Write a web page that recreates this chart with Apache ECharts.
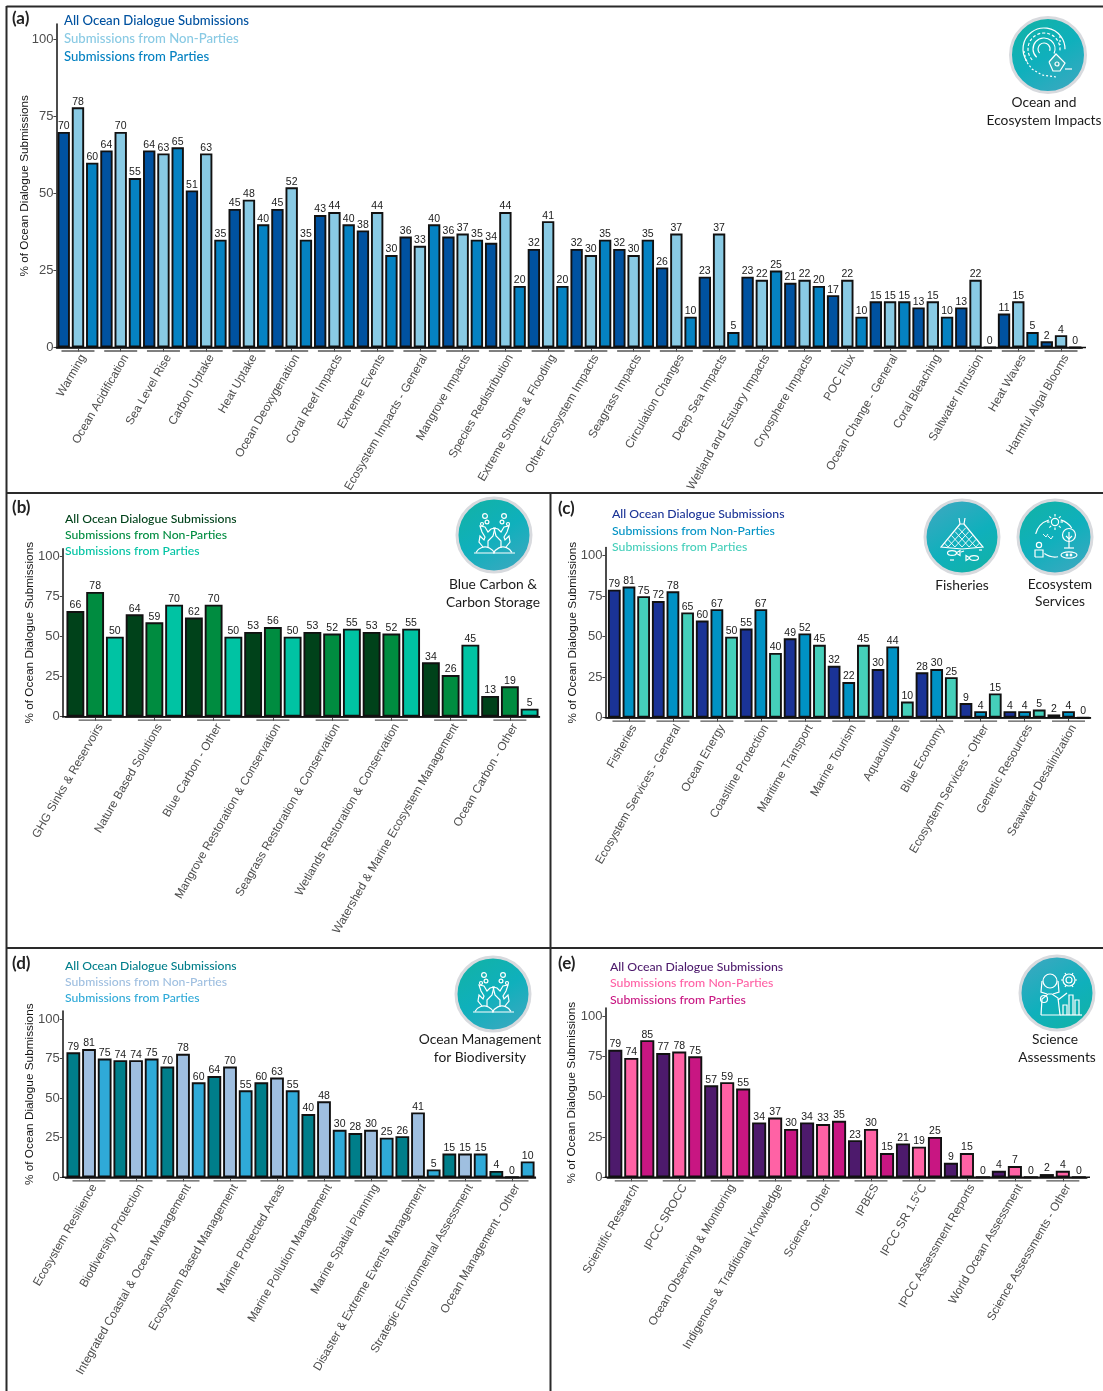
<!DOCTYPE html>
<html><head><meta charset="utf-8">
<style>html,body{margin:0;padding:0;background:#fff}#chart{width:1103px;height:1391px}</style>
<script src="https://cdn.jsdelivr.net/npm/echarts@6/dist/echarts.min.js"></script>
</head><body><div id="chart"></div>
<script>
const legendNames = ['All Ocean Dialogue Submissions','Submissions from Non-Parties','Submissions from Parties'];

const categoriesA = ['Warming','Ocean Acidification','Sea Level Rise','Carbon Uptake','Heat Uptake','Ocean Deoxygenation','Coral Reef Impacts','Extreme Events','Ecosystem Impacts - General','Mangrove Impacts','Species Redistribution','Extreme Storms & Flooding','Other Ecosystem Impacts','Seagrass Impacts','Circulation Changes','Deep Sea Impacts','Wetland and Estuary Impacts','Cryosphere Impacts','POC Flux','Ocean Change - General','Coral Bleaching','Saltwater Intrusion','Heat Waves','Harmful Algal Blooms'];
const allA =        [70,64,64,51,45,45,43,38,36,36,34,32,32,32,26,23,23,21,17,15,13,13,11,2];
const nonPartiesA = [78,70,63,63,48,52,44,44,33,37,44,41,30,30,37,37,22,22,22,15,15,22,15,4];
const partiesA =    [60,55,65,35,40,35,40,30,40,35,20,20,35,35,10,5,25,20,10,15,10,0,5,0];

const categoriesB = ['GHG Sinks & Reservoirs','Nature Based Solutions','Blue Carbon - Other','Mangrove Restoration & Conservation','Seagrass Restoration & Conservation','Wetlands Restoration & Conservation','Watershed & Marine Ecosystem Management','Ocean Carbon - Other'];
const allB =        [66,64,62,53,53,53,34,13];
const nonPartiesB = [78,59,70,56,52,52,26,19];
const partiesB =    [50,70,50,50,55,55,45,5];

const categoriesC = ['Fisheries','Ecosystem Services - General','Ocean Energy','Coastline Protection','Maritime Transport','Marine Tourism','Aquaculture','Blue Economy','Ecosystem Services - Other','Genetic Resources','Seawater Desalinization'];
const allC =        [79,72,60,55,49,32,30,28,9,4,2];
const nonPartiesC = [81,78,67,67,52,22,44,30,4,4,4];
const partiesC =    [75,65,50,40,45,45,10,25,15,5,0];

const categoriesD = ['Ecosystem Resilience','Biodiversity Protection','Integrated Coastal & Ocean Management','Ecosystem Based Management','Marine Protected Areas','Marine Pollution Management','Marine Spatial Planning','Disaster & Extreme Events Management','Strategic Environmental Assessment','Ocean Management - Other'];
const allD =        [79,74,70,64,60,40,28,26,15,4];
const nonPartiesD = [81,74,78,70,63,48,30,41,15,0];
const partiesD =    [75,75,60,55,55,30,25,5,15,10];

const categoriesE = ['Scientific Research','IPCC SROCC','Ocean Observing & Monitoring','Indigenous & Traditional Knowledge','Science - Other','IPBES','IPCC SR 1.5\u00B0C','IPCC Assessment Reports','World Ocean Assessment','Science Assessments - Other'];
const allE =        [79,77,57,34,34,23,21,9,4,2];
const nonPartiesE = [74,78,59,37,33,30,19,15,7,4];
const partiesE =    [85,75,55,30,35,15,25,0,0,0];

const yTicks = [0,25,50,75,100];
const YMAX = 105;

const panels = [
 {tag:'(a)',tx:12,ty:19,cats:categoriesA,all:allA,non:nonPartiesA,par:partiesA,colors:['#0052A0','#89CAE4','#0582C2'],
  x0:56.6,x1:1082.4,y0:347.5,scale:3.08,axisX:56.4,axisEnd:1086,lx:64,ly:[21,39,57],lf:13.15,nameGap:26},
 {tag:'(b)',tx:12,ty:508,cats:categoriesB,all:allB,non:nonPartiesB,par:partiesB,colors:['#00421A','#008C40','#00C3A3'],
  x0:65.5,x1:539.5,y0:716.7,scale:1.6,axisX:62.8,axisEnd:540,lx:65,ly:[519,535,551],lf:12.2,nameGap:27},
 {tag:'(c)',tx:558,ty:509,cats:categoriesC,all:allC,non:nonPartiesC,par:partiesC,colors:['#1A3396','#0092C4','#45CFBA'],
  x0:607,x1:1090.5,y0:717.7,scale:1.62,axisX:605.4,axisEnd:1091,lx:612,ly:[514,531,547],lf:12.25,nameGap:27},
 {tag:'(d)',tx:12,ty:964,cats:categoriesD,all:allD,non:nonPartiesD,par:partiesD,colors:['#007E8A','#9FBFE0','#2FAAD8'],
  x0:65.5,x1:535.5,y0:1177.3,scale:1.583,axisX:62.8,axisEnd:536,lx:65,ly:[966,982,998],lf:12.2,nameGap:27},
 {tag:'(e)',tx:558,ty:964,cats:categoriesE,all:allE,non:nonPartiesE,par:partiesE,colors:['#4D1A6C','#FF62A5','#C81682'],
  x0:607.3,x1:1086.8,y0:1177.3,scale:1.613,axisX:605.4,axisEnd:1090,lx:610,ly:[967,983,1000],lf:12.3,nameGap:28}
];

const grids=[],xAxes=[],yAxes=[],series=[],graphics=[];
const FONT='"Liberation Sans",Arial,sans-serif', CAL='Lato,"Open Sans",sans-serif';

panels.forEach((p,i)=>{
  const w=p.x1-p.x0, h=YMAX*p.scale, cw=w/p.cats.length, gap=1.9, bw=cw/3-gap;
  grids.push({left:p.x0,width:w,top:p.y0-h,height:h});
  xAxes.push({type:'category',gridIndex:i,data:p.cats,
    axisLine:{show:true,lineStyle:{color:'#111',width:1.5}},
    axisTick:{show:true,alignWithLabel:true,length:4,lineStyle:{color:'#444',width:1}},
    axisLabel:{interval:0,rotate:60,margin:5,fontFamily:FONT,fontSize:11.8,color:'#4d4d4d',verticalAlign:'top',hideOverlap:false}});
  yAxes.push({type:'value',gridIndex:i,min:0,max:YMAX,offset:p.x0-p.axisX,
    name:'% of Ocean Dialogue Submissions',nameLocation:'middle',nameGap:p.nameGap,nameMoveOverlap:false,
    nameTextStyle:{fontFamily:FONT,fontSize:11.8,color:'#111'},
    splitLine:{show:false},
    axisLine:{show:true,lineStyle:{color:'#111',width:1.5}},
    axisTick:{show:true,length:3,lineStyle:{color:'#444',width:1},customValues:yTicks},
    axisLabel:{fontFamily:FONT,fontSize:13,color:'#4d4d4d',margin:3,customValues:yTicks}});
  [p.all,p.non,p.par].forEach((vals,k)=>{
    series.push({type:'bar',name:legendNames[k],xAxisIndex:i,yAxisIndex:i,data:vals,
      barWidth:bw,barGap:(gap/bw*100).toFixed(1)+'%',
      itemStyle:{color:p.colors[k],borderColor:'#111',borderWidth:1.9},
      label:{show:true,position:'top',distance:0,fontFamily:FONT,fontSize:10.5,color:'#1a1a1a'},
      silent:true,animation:false});
  });
  // short horizontal bracket below each category group
  series.push({type:'custom',xAxisIndex:i,yAxisIndex:i,silent:true,animation:false,clip:false,
    data:p.cats.map((c,j)=>[j,0]),
    renderItem:(params,api)=>{
      const c=api.coord([api.value(0),0]);
      return {type:'line',shape:{x1:c[0]-16.5,y1:c[1]+3.5,x2:c[0]+16.5,y2:c[1]+3.5},style:{stroke:'#555',lineWidth:1.3}};
    }});
  // axis extension and legend text
  graphics.push({type:'line',shape:{x1:p.axisX-0.7,y1:p.y0,x2:p.axisEnd,y2:p.y0},style:{stroke:'#111',lineWidth:1.5},z:5});
  legendNames.forEach((n,k)=>graphics.push({type:'text',x:p.lx,y:p.ly[k],z:10,
    style:{text:n,fill:p.colors[k],font:'500 '+p.lf+'px '+CAL,textVerticalAlign:'middle'}}));
  graphics.push({type:'text',x:p.tx,y:p.ty,z:10,style:{text:p.tag,fill:'#222',font:'bold 17px '+CAL,textVerticalAlign:'middle'}});
});

// panel frame
[[6.5,6.5,1103,6.5],[6.5,6,6.5,1391],[6,493,1103,493],[6,948,1103,948],[550.5,493,550.5,1391]].forEach(s=>
  graphics.push({type:'line',shape:{x1:s[0],y1:s[1],x2:s[2],y2:s[3]},style:{stroke:'#2a2a2a',lineWidth:2},z:6}));

// caption text
[['Ocean and',1044,103],['Ecosystem Impacts',1044,121],['Blue Carbon &',493,585],['Carbon Storage',493,603],
 ['Fisheries',962,586],['Ecosystem',1060,585],['Services',1060,602],['Ocean Management',480,1040],['for Biodiversity',480,1058],
 ['Science',1055,1040],['Assessments',1057,1058]].forEach(t=>
  graphics.push({type:'text',x:t[1],y:t[2],z:10,style:{text:t[0],fill:'#1a1a1a',font:'13.8px '+CAL,textAlign:'center',textVerticalAlign:'middle'}}));

// icon drawing helpers
const S={stroke:'#fff',fill:null,lineWidth:1.2};
const pl=(pts,ex)=>({type:'polyline',shape:{points:pts},style:Object.assign({},S,ex||{})});
const ci=(x,y,r,ex)=>({type:'circle',shape:{cx:x,cy:y,r},style:Object.assign({},S,ex||{})});
const ar=(x,y,r,a,b,ex)=>({type:'arc',shape:{cx:x,cy:y,r,startAngle:a,endAngle:b,clockwise:true},style:Object.assign({},S,ex||{})});
function badge(cx,cy,r,flip,parts){
  const grad=flip?[['#3DA8C0',0],['#0FB0BC',0.55],['#12B2A6',1]]:[['#12B2A6',0],['#0FB0BC',0.5],['#3DA8C0',1]];
  graphics.push({type:'group',x:cx,y:cy,z:8,children:[
    {type:'circle',shape:{cx:0,cy:0,r},style:{fill:{type:'linear',x:0.2,y:0,x2:0.8,y2:1,colorStops:grad.map(g=>({color:g[0],offset:g[1]}))},stroke:'#D8DADE',lineWidth:3}}
  ].concat(parts)});
}
const coral=[
  pl([[-20,18],[21,18]]),ar(-9,22,10,3.6,5.9),ar(9,22,10,3.5,5.8),
  pl([[-6,13],[-6,6],[-1,1],[1,-7],[-3,-6],[-6,-3],[-9,-8],[-14,-9],[-12,-3],[-9,2],[-10,5],[-14,1],[-15,7],[-11,12]]),
  pl([[7,13],[7,6],[2,1],[0,-7],[4,-6],[7,-3],[10,-8],[15,-9],[13,-3],[10,2],[11,5],[15,1],[16,7],[12,12]]),
  ci(-9,-19,2.4),ci(-7,-13,1.9),ci(-12,-11,1.5),ci(10,-19,2.4),ci(8,-13,1.9),ci(14,-11,1.5)];
const ocean=[
  ar(-4,-6,6,2.4,6.6),ar(-4,-6,11,2.3,6.7),ar(-4,-6,16,2.4,6.5,{lineDash:[3,2]}),ar(-4,-6,21,2.5,6.3),
  pl([[12,-19],[12,-10]],{lineDash:[2,2]}),pl([[-24,-4],[-22,6],[-16,14],[-6,20],[8,22]],{lineDash:[2,2]}),
  pl([[1,7],[8,-1],[17,8],[12,16],[5,16],[1,7]],{fill:'#2FAEB6'}),ci(9,9,2),pl([[17,14],[24,14]])];
const fish=(x,y,d)=>[ {type:'ellipse',shape:{cx:x,cy:y,rx:4.5,ry:2.4},style:S}, pl([[x+d*4,y],[x+d*8,y-2.5],[x+d*8,y+2.5],[x+d*4,y]]) ];
const net=[];
[0.17,0.33,0.5,0.67,0.83].forEach(t=>{
  const lx=-21*t, ly=-13+23*t, rx=21*t;
  net.push(pl([[lx,ly],[lx+21*(1-t),10]],{lineWidth:0.9}));
  net.push(pl([[rx,ly],[rx-21*(1-t),10]],{lineWidth:0.9}));
});
const fisheries=[
  pl([[-3,-19],[-2,-13],[2,-13],[3,-19]]),pl([[-2,-13],[-21,10],[0,12],[21,10],[2,-13]])
].concat(net,fish(-10,16,1),fish(12,21,-1),[pl([[-1,15],[2,14]]),pl([[-12,23],[-8,23]]),pl([[17,13],[20,13]])]);
const ecosystem=[
  ci(0,-15,3.6),...[0,1,2,3,4,5,6,7].map(k=>{const a=k*Math.PI/4;return pl([[5.5*Math.cos(a),-15+5.5*Math.sin(a)],[8*Math.cos(a),-15+8*Math.sin(a)]])}),
  ar(0,2,20,3.4,4.4),ar(0,2,20,5.0,5.7),ar(0,2,18,1.4,2.2),
  pl([[-12,-3],[-9,0],[-7,-3]],{lineWidth:0.9}),pl([[-7,-1],[-4,2],[-2,-1]],{lineWidth:0.9}),
  ci(-16,8,2.6),pl([[-20,20],[-20,13],[-12,13],[-12,20],[-20,20]]),
  ci(14,-2,6.5),pl([[14,-5],[14,11]]),pl([[11,-1],[14,2],[17,-1]]),pl([[9,11],[19,11]]),
  {type:'ellipse',shape:{cx:14,cy:18,rx:8,ry:3.2},style:S},ci(12,18,0.8,{fill:'#fff'}),ci(16,18,0.8,{fill:'#fff'})];
const science=[
  ci(-7,-12,7),pl([[-15,-12],[-16,-1],[-10,1]]),pl([[1,-12],[2,-1],[-4,1]]),
  pl([[-16,22],[-15,6],[-9,1],[-5,1],[1,5],[3,22],[-16,22]]),ci(-13,6,3.5),pl([[1,7],[10,0]]),
  ci(12,-13,6),ci(12,-13,3),...[0,1,2,3,4,5].map(k=>{const a=k*Math.PI/3;return pl([[12+6*Math.cos(a),-13+6*Math.sin(a)],[12+8*Math.cos(a),-13+8*Math.sin(a)]])}),
  pl([[6,22],[6,12],[10,12],[10,22]]),pl([[12,22],[12,2],[16,2],[16,22]]),pl([[18,22],[18,7],[22,7],[22,22]]),pl([[3,22],[25,22]])];
badge(1048,55,37.5,false,ocean);
badge(494,535,37,false,coral);
badge(962,537,37,true,fisheries);
badge(1055,537,37,false,ecosystem);
badge(493,994,37,false,coral);
badge(1057,993,37,true,science);

const chart=echarts.init(document.getElementById('chart'),null,{renderer:'canvas'});
chart.setOption({animation:false,backgroundColor:'#fff',grid:grids,xAxis:xAxes,yAxis:yAxes,series,graphic:graphics});
</script></body></html>
